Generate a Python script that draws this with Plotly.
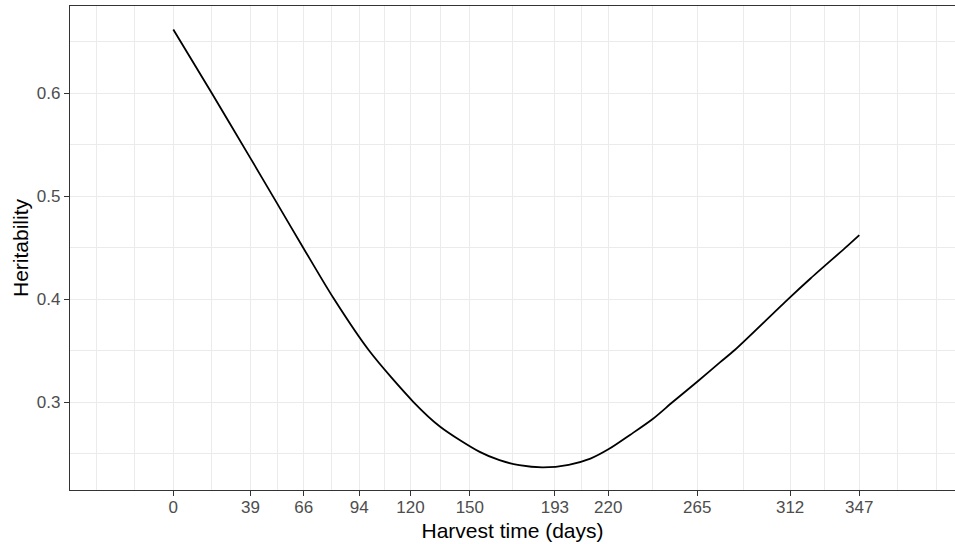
import plotly.graph_objects as go

# Data
harvest_days = [0, 19.5, 39, 52.5, 66, 81, 99, 121.5, 135, 155, 165, 175, 187,
                200, 211, 220.5, 231, 242.5, 252.6, 265, 276.5, 284, 311, 322.3,
                340, 347]
heritability = [0.662, 0.600, 0.537, 0.493, 0.449, 0.401, 0.350, 0.300, 0.276,
                0.2515, 0.2435, 0.2386, 0.2365, 0.2390, 0.2450, 0.2545, 0.268,
                0.2835, 0.300, 0.3197, 0.3385, 0.3505, 0.400, 0.420, 0.4500,
                0.4622]

x_breaks = [0, 39, 66, 94, 120, 150, 193, 220, 265, 312, 347]
y_breaks = [0.3, 0.4, 0.5, 0.6]
y_labels = ["0.3", "0.4", "0.5", "0.6"]

x_title = "Harvest time (days)"
y_title = "Heritability"

# ggplot-style minor breaks: midpoints between majors, extended one step out
def minor_breaks(b, lo, hi):
    step = b[1] - b[0]
    ext = list(b)
    if lo < b[0]:
        ext = [b[0] - step] + ext
    if hi > b[-1]:
        ext = ext + [b[-1] + step]
    out = []
    for a, c in zip(ext[:-1], ext[1:]):
        out += [a, (a + c) / 2]
    out.append(ext[-1])
    return [v for v in out if lo <= v <= hi and v not in b]

x_range = [-52.25, 395.4]
y_range = [0.2145, 0.6848]

FONT = "Liberation Sans, Arial, sans-serif"
GRID = "#EBEBEB"
AXIS = "#333333"

fig = go.Figure()
fig.add_trace(go.Scatter(
    x=harvest_days, y=heritability, mode="lines",
    line=dict(color="black", width=1.8, shape="spline", smoothing=0.8),
    showlegend=False, hoverinfo="skip"))

fig.update_layout(
    width=955, height=544, autosize=False,
    margin=dict(l=70, r=0, t=6, b=54),
    paper_bgcolor="white", plot_bgcolor="white",
    font=dict(family=FONT, color="#4D4D4D", size=17),
)

fig.update_xaxes(
    range=x_range, tickmode="array", tickvals=x_breaks,
    ticktext=[str(v) for v in x_breaks],
    showgrid=True, gridcolor=GRID, gridwidth=1.4,
    minor=dict(tickvals=minor_breaks(x_breaks, *x_range), showgrid=True,
               gridcolor=GRID, gridwidth=0.8, ticks=""),
    ticks="outside", ticklen=5, tickwidth=1.2, tickcolor=AXIS,
    ticklabelstandoff=-4,
    showline=True, linecolor=AXIS, linewidth=1.3, mirror=True,
    zeroline=False,
    tickfont=dict(size=17, color="#4D4D4D", family=FONT),
    title=dict(text=x_title, font=dict(size=21, color="black", family=FONT),
               standoff=7),
)
fig.update_yaxes(
    range=y_range, tickmode="array", tickvals=y_breaks, ticktext=y_labels,
    showgrid=True, gridcolor=GRID, gridwidth=1.4,
    minor=dict(tickvals=minor_breaks(y_breaks, *y_range), showgrid=True,
               gridcolor=GRID, gridwidth=0.8, ticks=""),
    ticks="outside", ticklen=5, tickwidth=1.2, tickcolor=AXIS,
    showline=True, linecolor=AXIS, linewidth=1.3, mirror=False,
    zeroline=False,
    tickfont=dict(size=17, color="#4D4D4D", family=FONT),
    title=dict(text=y_title, font=dict(size=21, color="black", family=FONT),
               standoff=2),
)

fig.write_html("out.html")
